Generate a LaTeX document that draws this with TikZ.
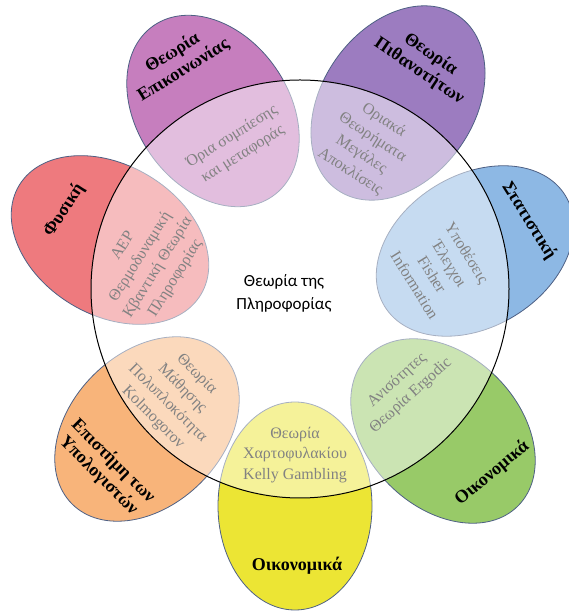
\documentclass[tikz,border=0pt]{standalone}
\usepackage{fontspec}
\setmainfont{Liberation Serif}
\newfontfamily\centerfont{Carlito}
\begin{document}
\begin{tikzpicture}[x=1pt,y=1pt,
  petal/.style={draw=petalline, line width=0.8pt},
  outer/.style={font=\fontsize{18}{20.5}\selectfont\bfseries, align=center, inner sep=0pt, text=black},
  inner/.style={font=\fontsize{16}{20.5}\selectfont, align=center, inner sep=0pt, text=innergray},
]
\definecolor{petalline}{RGB}{78,96,132}
\definecolor{innergray}{RGB}{130,130,130}
\definecolor{cPurpleA}{RGB}{198,126,190}
\definecolor{cPurpleB}{RGB}{156,124,192}
\definecolor{cRed}{RGB}{238,122,126}
\definecolor{cBlue}{RGB}{141,184,228}
\definecolor{cGreen}{RGB}{152,202,104}
\definecolor{cYellow}{RGB}{236,229,52}
\definecolor{cOrange}{RGB}{248,180,122}
\useasboundingbox (0,0) rectangle (569,612);

% petals around the central circle
\draw[petal, fill=cPurpleA, rotate around={125:(213,501)}] (213,501) ellipse (104 and 76);
\draw[petal, fill=cPurpleB, rotate around={55:(398,509)}] (398,509) ellipse (106 and 76);
\draw[petal, fill=cRed, rotate around={149:(110,372)}] (110,372) ellipse (106 and 75);
\draw[petal, fill=cBlue, rotate around={31.5:(475,361)}] (475,361) ellipse (106 and 76);
\draw[petal, fill=cGreen, rotate around={-45:(443,181)}] (443,181) ellipse (106 and 76);
\draw[petal, fill=cYellow] (295,106) ellipse (77 and 104);
\draw[petal, fill=cOrange, rotate around={45:(147,183)}] (147,183) ellipse (106 and 76);

% central circle: translucent white over the petals
\fill[white, opacity=0.5] (300,323) circle (209);
\draw[black, line width=1pt] (300,323) circle (209);

\node[font=\centerfont\fontsize{17}{23}\selectfont, align=center, inner sep=0pt] (core) at (284,319) {Θεωρία της\\Πληροφορίας};

% petal labels
\node[outer, rotate=32] (commlab) at (178,550.5) {Θεωρία\\Επικοινωνίας};
\node[outer, rotate=-34] (problab) at (425,549.5) {Θεωρία\\Πιθανοτήτων};
\node[outer, rotate=57] (physlab) at (64,402) {Φυσική};
\node[outer, rotate=-58] (statlab) at (529,391) {Στατιστική};
\node[outer, rotate=40] (econlabA) at (492,139) {Οικονομικά};
\node[outer] (econlabB) at (297,46) {Οικονομικά};
\node[outer, rotate=-45] (cslab) at (106,143.5) {Επιστήμη των\\Υπολογιστών};

% overlap topics
\node[inner, rotate=32] (commin) at (237.5,466.5) {Όρια συμπίεσης\\και μεταφοράς};
\node[inner, rotate=-33] (probin) at (367,466) {Οριακά\\Θεωρήματα\\Μεγάλες\\Αποκλίσεις};
\node[inner, rotate=58] (physin) at (149.5,349.5) {ΑΕΡ\\Θερμοδυναμική\\Κβαντική Θεωρία\\Πληροφορίας};
\node[inner, rotate=-58] (statin) at (441,343) {Υποθέσεις\\Έλεγχοι\\Fisher\\Information};
\node[inner, rotate=42] (econinA) at (404,224) {Ανισότητες\\Θεωρία Ergodic};
\node[inner] (econinB) at (295,157) {Θεωρία\\Χαρτοφυλακίου\\Kelly Gambling};
\node[inner, rotate=-45] (csin) at (175,216) {Θεωρία\\Μάθησης\\Πολυπλοκότητα\\Kolmogorov};
\end{tikzpicture}
\end{document}
